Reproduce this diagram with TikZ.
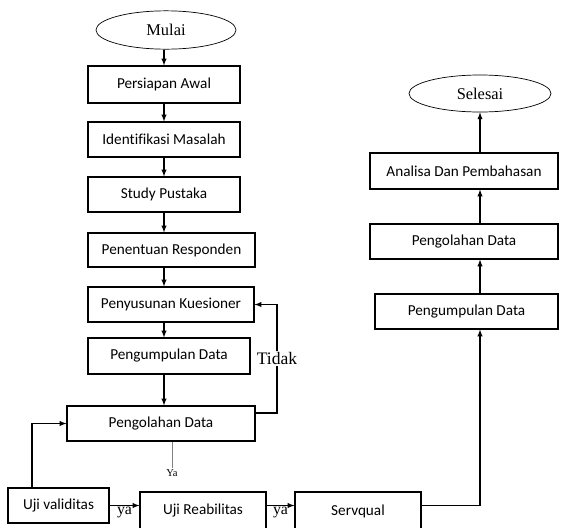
\documentclass[tikz,border=0pt]{standalone}
\usepackage{fontspec}
\setmainfont{Liberation Serif}
\newfontfamily\kotakfont[Ligatures=NoCommon]{Carlito}
\usetikzlibrary{shapes.geometric}
\tikzset{
  kotak/.style={draw, line width=0.9pt, inner sep=0pt, minimum width=4.56cm, minimum height=1.05cm, font=\kotakfont\fontsize{13}{15}\selectfont},
  oval/.style={ellipse, draw, line width=0.6pt, inner sep=0pt, minimum width=4.2cm, minimum height=1.15cm, font=\fontsize{14}{16}\selectfont},
  panah/.style={-latex, line width=1pt},
}

\begin{document}
\begin{tikzpicture}[x=0.03cm, y=-0.03cm]
\clip (0, 0) rectangle (561, 527);
% kolom kiri
\node[oval] (mulai) at (166, 30){Mulai};
\node[kotak, minimum height=1.11cm] (awal) at (164, 84.5){Persiapan Awal};
\node[kotak] (identifikasi) at (164, 139.5){Identifikasi Masalah};
\node[kotak] (pustaka) at (164, 194.5){Study Pustaka};
\node[kotak, minimum width=5.01cm, minimum height=1.02cm] (responden) at (171.5, 250){Penentuan Responden};
\node[kotak, minimum width=4.98cm] (kuesioner) at (171, 304.5){Penyusunan Kuesioner};
\node[kotak, minimum width=4.86cm, minimum height=1.08cm] (kumpul) at (169, 356){Pengumpulan Data};
\node[kotak, minimum width=5.64cm] (olah) at (161, 423.5){Pengolahan Data};
% baris bawah
\node[kotak, minimum width=3.03cm] (validitas) at (58.5, 505.5){Uji validitas};
\node[kotak, minimum width=3.78cm, minimum height=1.14cm] (reabilitas) at (203, 511){Uji Reabilitas};
\node[kotak, minimum width=3.78cm, minimum height=1.14cm] (servqual) at (358, 511){Servqual};
% kolom kanan
\node[kotak, minimum width=5.49cm] (kumpul2) at (466.5, 311.5){Pengumpulan Data};
\node[kotak, minimum width=5.64cm] (olah2) at (464, 241.5){Pengolahan Data};
\node[kotak, minimum width=5.64cm, minimum height=1.08cm] (analisa) at (464, 171){Analisa Dan Pembahasan};
\node[oval, minimum width=4.26cm, minimum height=1.11cm] (selesai) at (480, 93.5){Selesai};
\coordinate (balik) at (277, 413);
\coordinate (naik) at (32, 423.5);
\coordinate (ya) at (172, 468);

\draw [panah](mulai.south -| awal) -- (awal.north);
\draw [panah](awal) -- (identifikasi);
\draw [panah](identifikasi) -- (pustaka);
\draw [panah](pustaka.south) -- (pustaka.south |- responden.north);
\draw [panah](pustaka.south |- responden.south) -- (pustaka.south |- kuesioner.north);
\draw [panah](pustaka.south |- kuesioner.south) -- (pustaka.south |- kumpul.north);
\draw [panah](pustaka.south |- kumpul.south) -- (pustaka.south |- olah.north);
\draw [panah](olah.east |- balik) -- (balik) |- (kuesioner.east) node[pos=0.25, fill=white, inner sep=1pt, font=\fontsize{15}{17}\selectfont]{Tidak};
\draw [gray, line width=0.6pt](ya |- olah.south) -- (ya) node[below, inner sep=1pt, text=black, font=\fontsize{9}{11}\selectfont]{Ya};
\draw [panah](validitas.north -| naik) -- (naik) -- (olah.west);
\draw [panah](validitas.east) -- (validitas.east -| reabilitas.west) node[midway, below, inner sep=1pt, font=\fontsize{13.5}{15}\selectfont]{ya};
\draw [panah](validitas.east -| reabilitas.east) -- (validitas.east -| servqual.west) node[midway, below, inner sep=1pt, font=\fontsize{13.5}{15}\selectfont]{ya};
\draw [panah](validitas.east -| servqual.east) -| (selesai.south |- kumpul2.south);
\draw [panah](selesai.south |- kumpul2.north) -- (selesai.south |- olah2.south);
\draw [panah](selesai.south |- olah2.north) -- (selesai.south |- analisa.south);
\draw [panah](selesai.south |- analisa.north) -- (selesai.south);
\end{tikzpicture}
\end{document}
